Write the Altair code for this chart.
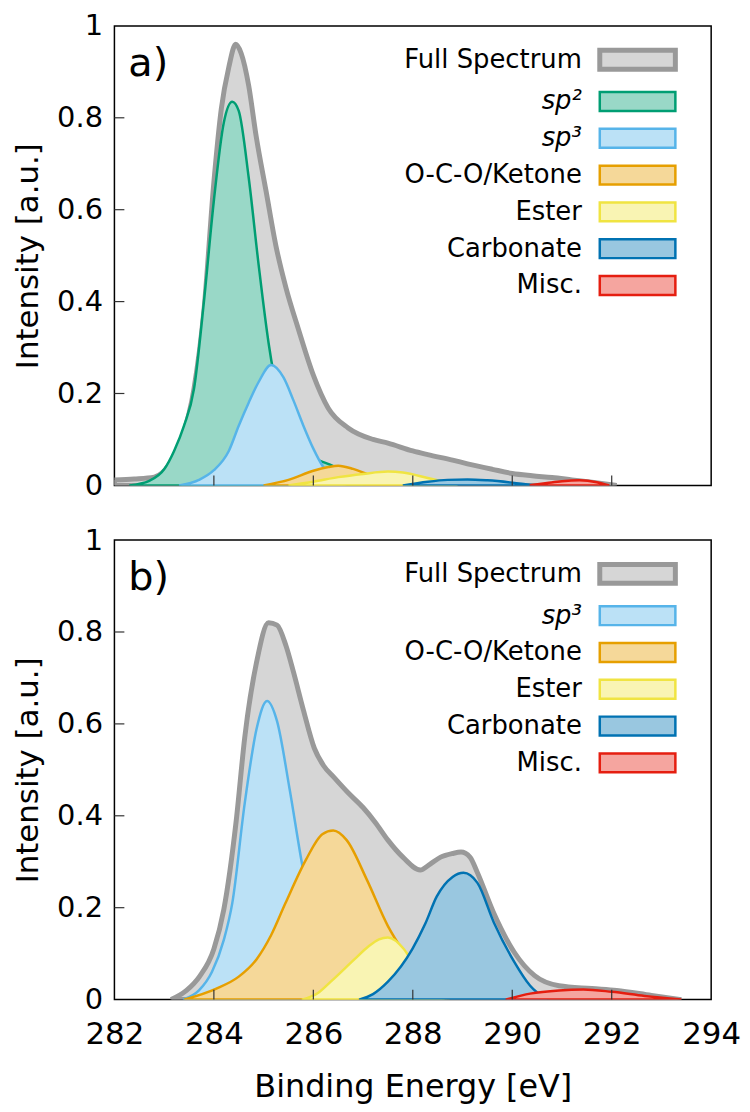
import altair as alt
import pandas as pd

FONT = "DejaVu Sans"

# ---------------- data ----------------
NAMES_A = ["Full Spectrum", "sp²", "sp³", "O-C-O/Ketone", "Ester", "Carbonate", "Misc."]
NAMES_B = ["Full Spectrum", "sp³", "O-C-O/Ketone", "Ester", "Carbonate", "Misc."]

STROKE = {"Full Spectrum": "#999999", "sp²": "#009e73", "sp³": "#56b4e9",
          "O-C-O/Ketone": "#e69f00", "Ester": "#f0e442", "Carbonate": "#0072b2",
          "Misc.": "#e51e10"}
FILL = {"Full Spectrum": "#d6d6d6", "sp²": "#99d8c7", "sp³": "#bbe1f6",
        "O-C-O/Ketone": "#f5d899", "Ester": "#f9f4b3", "Carbonate": "#99c7e0",
        "Misc.": "#f5a59f"}

# panel a
A_FULL_E = [282.0, 282.4, 282.8, 283.1, 283.35, 283.6, 283.8, 284.0, 284.15, 284.3, 284.44,
            284.55, 284.7, 284.85, 285.05, 285.25, 285.45, 285.7, 286.0, 286.3, 286.7, 287.2,
            287.5, 288.0, 288.3, 288.8, 289.1, 289.6, 290.0, 290.4, 290.8, 291.2, 291.6, 292.1]
A_FULL_I = [0.012, 0.014, 0.018, 0.045, 0.10, 0.21, 0.38, 0.66, 0.82, 0.91, 0.96,
            0.94, 0.87, 0.76, 0.64, 0.52, 0.43, 0.34, 0.24, 0.168, 0.125, 0.10,
            0.092, 0.075, 0.067, 0.055, 0.047, 0.035, 0.026, 0.021, 0.017, 0.012, 0.007, 0.0]
A_SP2_E = [282.3, 282.7, 283.0, 283.2, 283.4, 283.6, 283.8, 284.0, 284.2, 284.37, 284.5,
           284.7, 284.9, 285.1, 285.3, 285.5, 285.8, 286.1, 286.4, 286.7, 287.0]
A_SP2_I = [0.0, 0.01, 0.035, 0.075, 0.13, 0.21, 0.40, 0.62, 0.79, 0.835, 0.815,
           0.67, 0.48, 0.31, 0.19, 0.12, 0.075, 0.055, 0.042, 0.02, 0.0]
A_SP3_E = [283.3, 283.7, 284.0, 284.3, 284.5, 284.7, 284.9, 285.15, 285.4, 285.6, 285.8,
           286.0, 286.2, 286.4, 286.6]
A_SP3_I = [0.0, 0.012, 0.033, 0.075, 0.13, 0.18, 0.225, 0.262, 0.235, 0.185, 0.13,
           0.08, 0.04, 0.015, 0.0]
A_OCO_E = [285.0, 285.5, 286.0, 286.3, 286.5, 286.8, 287.1, 287.5, 288.0]
A_OCO_I = [0.0, 0.012, 0.032, 0.04, 0.043, 0.036, 0.024, 0.01, 0.0]
A_EST_E = [285.5, 286.0, 286.5, 287.0, 287.5, 287.8, 288.3, 288.9]
A_EST_I = [0.0, 0.008, 0.018, 0.025, 0.03, 0.028, 0.016, 0.0]
A_CAR_E = [287.8, 288.3, 288.7, 289.1, 289.5, 290.0, 290.45]
A_CAR_I = [0.0, 0.008, 0.012, 0.013, 0.011, 0.006, 0.0]
A_MIS_E = [290.35, 290.7, 291.0, 291.35, 291.7, 291.95]
A_MIS_I = [0.0, 0.005, 0.009, 0.011, 0.007, 0.0]

# panel b
B_FULL_E = [283.14, 283.45, 283.71, 284.0, 284.2, 284.45, 284.62, 284.86, 285.1, 285.27,
            285.45, 285.6, 285.8, 286.02, 286.2, 286.42, 286.7, 287.0, 287.25, 287.5, 287.8,
            288.15, 288.35, 288.56, 288.8, 288.97, 289.15, 289.3, 289.62, 290.04, 290.45,
            290.94, 291.6, 292.1, 292.8, 293.4]
B_FULL_I = [0.0, 0.02, 0.05, 0.11, 0.196, 0.39, 0.57, 0.735, 0.82, 0.815,
            0.77, 0.713, 0.63, 0.547, 0.51, 0.483, 0.45, 0.418, 0.385, 0.347, 0.31,
            0.282, 0.295, 0.31, 0.318, 0.321, 0.31, 0.276, 0.19, 0.103, 0.052,
            0.03, 0.024, 0.02, 0.009, 0.0]
B_SP3_E = [283.38, 283.7, 283.96, 284.2, 284.37, 284.62, 284.86, 285.07, 285.27, 285.52,
           285.77, 286.0, 286.3, 286.6, 286.9]
B_SP3_I = [0.0, 0.02, 0.06, 0.13, 0.21, 0.427, 0.59, 0.65, 0.606, 0.46,
           0.297, 0.17, 0.07, 0.02, 0.0]
B_OCO_E = [283.4, 284.05, 284.5, 284.86, 285.15, 285.44, 285.85, 286.18, 286.4, 286.67,
           287.08, 287.5, 287.82, 288.1, 288.4, 288.7]
B_OCO_I = [0.0, 0.024, 0.05, 0.088, 0.14, 0.21, 0.304, 0.36, 0.368, 0.347,
           0.26, 0.16, 0.103, 0.06, 0.025, 0.0]
B_EST_E = [285.77, 286.1, 286.35, 286.83, 287.1, 287.32, 287.5, 287.82, 288.07, 288.35, 288.6]
B_EST_I = [0.0, 0.015, 0.039, 0.088, 0.115, 0.131, 0.135, 0.11, 0.067, 0.025, 0.0]
B_CAR_E = [286.92, 287.2, 287.5, 287.99, 288.25, 288.48, 288.8, 289.02, 289.3, 289.63,
           290.04, 290.36, 290.7]
B_CAR_I = [0.0, 0.012, 0.039, 0.11, 0.165, 0.224, 0.267, 0.276, 0.254, 0.168,
           0.082, 0.03, 0.0]
B_MIS_E = [289.87, 290.36, 290.94, 291.43, 292.0, 292.66, 293.4]
B_MIS_I = [0.0, 0.013, 0.02, 0.022, 0.017, 0.008, 0.0]

SERIES_A = {"Full Spectrum": (A_FULL_E, A_FULL_I), "sp²": (A_SP2_E, A_SP2_I),
            "sp³": (A_SP3_E, A_SP3_I), "O-C-O/Ketone": (A_OCO_E, A_OCO_I),
            "Ester": (A_EST_E, A_EST_I), "Carbonate": (A_CAR_E, A_CAR_I),
            "Misc.": (A_MIS_E, A_MIS_I)}
SERIES_B = {"Full Spectrum": (B_FULL_E, B_FULL_I), "sp³": (B_SP3_E, B_SP3_I),
            "O-C-O/Ketone": (B_OCO_E, B_OCO_I), "Ester": (B_EST_E, B_EST_I),
            "Carbonate": (B_CAR_E, B_CAR_I), "Misc.": (B_MIS_E, B_MIS_I)}

X_TICKS = [284, 286, 288, 290, 292]
X_LABELS = [282, 284, 286, 288, 290, 292, 294]
Y_TICKS = [0.2, 0.4, 0.6, 0.8]
Y_LABELS = [0, 0.2, 0.4, 0.6, 0.8, 1]

W, H = 600, 462


def panel(series, names, tag, show_x):
    fill_scale = alt.Scale(domain=names, range=[FILL[n] for n in names])
    stroke_scale = alt.Scale(domain=names, range=[STROKE[n] for n in names])
    leg = alt.Legend(
        title=None, orient="none", legendX=513, legendY=21, padding=0,
        symbolType="M-2,-0.5H2V0.5H-2Z", symbolSize=1444,
        symbolStrokeWidth={"expr": "datum.value == 'Full Spectrum' ? 5 : 2.5"},
        symbolOpacity=1,
        labelAlign="right", labelOffset={"expr": "-69"}, labelFont=FONT, labelFontSize=26,
        labelColor="black", labelLimit=400, rowPadding=7,
        labelFontStyle={"expr": "indexof(datum.label, 'sp') == 0 ? 'italic' : 'normal'"},
    )
    if show_x:
        xaxis = alt.Axis(values=X_LABELS, ticks=False, domain=False, grid=False,
                         labelFlush=False, labelFont=FONT, labelFontSize=31,
                         labelPadding=20, labelColor="black", title="Binding Energy [eV]",
                         titleFont=FONT, titleFontSize=32, titleFontWeight="normal",
                         titlePadding=22, titleColor="black")
    else:
        xaxis = None
    yaxis = alt.Axis(values=Y_LABELS, format="~g", ticks=False, domain=False, grid=False,
                     labelFont=FONT, labelFontSize=29, labelPadding=12,
                     labelColor="black", title="Intensity [a.u.]", titleFont=FONT,
                     titleFontSize=31, titleFontWeight="normal", titlePadding=12,
                     titleColor="black")
    xs = alt.Scale(domain=[282, 294], nice=False, zero=False)
    ys = alt.Scale(domain=[0, 1], nice=False)
    layers = []
    for n in names:
        e, v = series[n]
        df = pd.DataFrame({"E": e, "I": v, "series": n})
        sw = 5 if n == "Full Spectrum" else 2.5
        layers.append(
            alt.Chart(df).mark_area(interpolate="monotone", strokeWidth=sw, opacity=1,
                                    clip=True).encode(
                x=alt.X("E:Q", scale=xs, axis=xaxis),
                y=alt.Y("I:Q", scale=ys, axis=yaxis, stack=None),
                fill=alt.Fill("series:N", scale=fill_scale, legend=leg),
                stroke=alt.Stroke("series:N", scale=stroke_scale, legend=leg),
            )
        )
    xt = alt.Chart(pd.DataFrame({"E": X_TICKS})).mark_rule(color="#333333", strokeWidth=1.2).encode(
        x=alt.X("E:Q", scale=xs, axis=xaxis), y=alt.value(H), y2=alt.value(H - 10))
    yt = alt.Chart(pd.DataFrame({"I": Y_TICKS})).mark_rule(color="#333333", strokeWidth=1.2).encode(
        y=alt.Y("I:Q", scale=ys, axis=yaxis), x=alt.value(0), x2=alt.value(10))
    txt = alt.Chart(pd.DataFrame({"t": [tag]})).mark_text(
        align="left", baseline="alphabetic", font=FONT, fontSize=40, color="black"
    ).encode(text="t:N", x=alt.value(14), y=alt.value(50))
    return alt.layer(*layers, xt, yt, txt).properties(width=W, height=H)


pa = panel(SERIES_A, NAMES_A, "a)", False)
pb = panel(SERIES_B, NAMES_B, "b)", True)

chart = alt.vconcat(pa, pb, spacing=24).resolve_scale(
    fill="independent", stroke="independent", x="shared"
).properties(padding={"left": 4, "top": 0, "right": 0, "bottom": 0}).configure_view(
    stroke="black", strokeWidth=1.5)

chart.save("out.html", embed_options={"renderer": "svg", "actions": False})
